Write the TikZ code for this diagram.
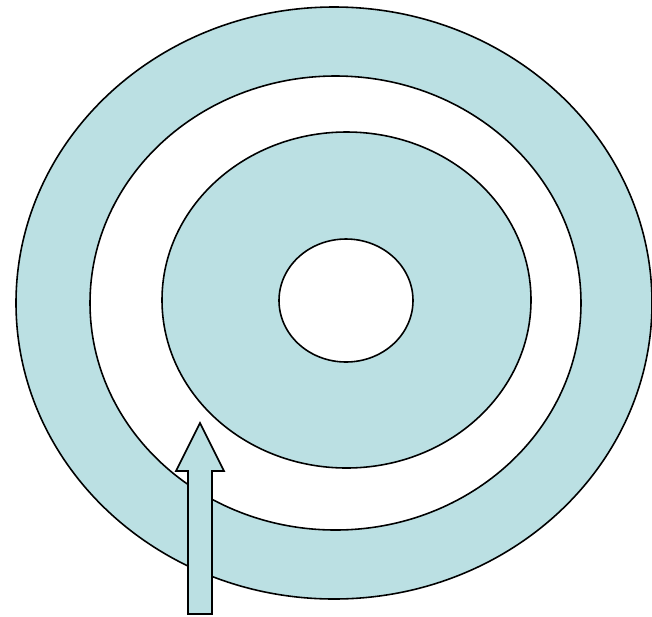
\documentclass[tikz,border=0pt]{standalone}
\usepackage{tikz}

\definecolor{ringblue}{RGB}{187,224,227}

\begin{document}
\begin{tikzpicture}[x=0.02cm,y=-0.02cm,ring/.style={draw=black,line width=0.9pt},blue ring/.style={ring,fill=ringblue},white ring/.style={ring,fill=white},]
\useasboundingbox (0,0) rectangle (652,616);
\draw[blue ring] (334,303) ellipse [x radius=318,y radius=296];
\draw[white ring] (335.5,303) ellipse [x radius=245.5,y radius=227];
\draw[blue ring] (346.5,300) ellipse [x radius=184.5,y radius=168];
\draw[white ring] (346,300.5) ellipse [x radius=67,y radius=61.5];
\draw[blue ring,line join=miter] (188,614) -- (188,471) -- (176,471) -- (200,423) -- (224,471) -- (212,471) -- (212,614) -- cycle;
\end{tikzpicture}
\end{document}
